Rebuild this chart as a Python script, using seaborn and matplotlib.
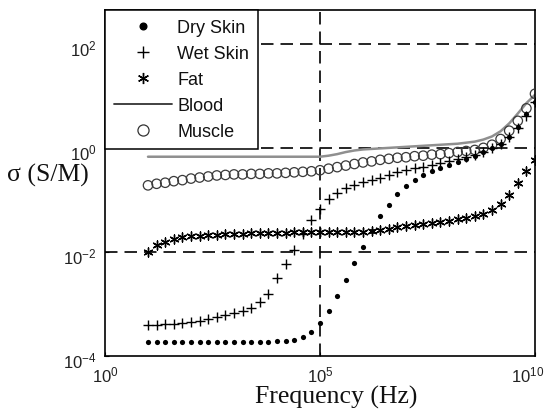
import numpy as np
import pandas as pd
import matplotlib
matplotlib.use("Agg")
import matplotlib.pyplot as plt
import matplotlib.transforms as mtransforms
from matplotlib.lines import Line2D
import seaborn as sns

# ---------------- data (log10 of frequency in Hz, log10 of conductivity in S/m) -------------
log_freq = [1.0, 1.2, 1.4, 1.6, 1.8, 2.0, 2.2, 2.4, 2.6, 2.8,
            3.0, 3.2, 3.4, 3.6, 3.8, 4.0, 4.2, 4.4, 4.6, 4.8,
            5.0, 5.2, 5.4, 5.6, 5.8, 6.0, 6.2, 6.4, 6.6, 6.8,
            7.0, 7.2, 7.4, 7.6, 7.8, 8.0, 8.2, 8.4, 8.6, 8.8,
            9.0, 9.2, 9.4, 9.6, 9.8, 10.0]

dry_skin = [-3.73, -3.73, -3.73, -3.73, -3.73, -3.73, -3.73, -3.73, -3.73, -3.73,
            -3.73, -3.73, -3.73, -3.73, -3.73, -3.72, -3.72, -3.70, -3.63, -3.53,
            -3.37, -3.13, -2.85, -2.54, -2.21, -1.90, -1.60, -1.31, -1.10, -0.88,
            -0.73, -0.62, -0.53, -0.45, -0.38, -0.33, -0.27, -0.21, -0.15, -0.08,
            0.00, 0.08, 0.21, 0.40, 0.65, 0.88]

wet_skin = [-3.40, -3.40, -3.39, -3.38, -3.37, -3.35, -3.33, -3.29, -3.25, -3.22,
            -3.17, -3.13, -3.08, -2.97, -2.80, -2.50, -2.24, -1.97, -1.66, -1.38,
            -1.17, -0.98, -0.86, -0.78, -0.71, -0.65, -0.61, -0.57, -0.52, -0.47,
            -0.43, -0.39, -0.36, -0.33, -0.29, -0.26, -0.22, -0.18, -0.13, -0.07,
            0.00, 0.08, 0.20, 0.38, 0.62, 0.88]

fat = [-2.00, -1.87, -1.80, -1.75, -1.72, -1.70, -1.69, -1.68, -1.67, -1.66,
       -1.65, -1.65, -1.64, -1.64, -1.63, -1.63, -1.63, -1.62, -1.62, -1.62,
       -1.62, -1.62, -1.62, -1.61, -1.61, -1.61, -1.60, -1.58, -1.56, -1.53,
       -1.51, -1.49, -1.47, -1.44, -1.42, -1.40, -1.37, -1.35, -1.31, -1.27,
       -1.20, -1.08, -0.90, -0.68, -0.44, -0.23]

blood = [-0.17, -0.17, -0.17, -0.17, -0.17, -0.17, -0.17, -0.17, -0.17, -0.17,
         -0.17, -0.17, -0.17, -0.17, -0.17, -0.17, -0.17, -0.17, -0.17, -0.17,
         -0.17, -0.15, -0.12, -0.08, -0.05, -0.03, -0.02, -0.01, 0.00, 0.01,
         0.02, 0.03, 0.04, 0.05, 0.06, 0.07, 0.08, 0.10, 0.12, 0.16,
         0.22, 0.32, 0.47, 0.66, 0.86, 1.02]

muscle = [-0.72, -0.69, -0.67, -0.64, -0.62, -0.59, -0.57, -0.55, -0.53, -0.52,
          -0.51, -0.51, -0.50, -0.50, -0.49, -0.49, -0.48, -0.47, -0.46, -0.45,
          -0.43, -0.40, -0.37, -0.34, -0.31, -0.28, -0.26, -0.23, -0.21, -0.19,
          -0.18, -0.16, -0.15, -0.13, -0.12, -0.10, -0.08, -0.06, -0.04, 0.00,
          0.06, 0.17, 0.33, 0.52, 0.76, 1.04]

series_names = ["Dry Skin", "Wet Skin", "Fat", "Blood", "Muscle"]
x_ticks = [1e0, 1e5, 1e10]
x_ticklabels = ["$10^{0}$", "$10^{5}$", "$10^{10}$"]
y_ticks = [1e-4, 1e-2, 1e0, 1e2]
y_ticklabels = ["$10^{-4}$", "$10^{-2}$", "$10^{0}$", "$10^{2}$"]

df = pd.DataFrame({
    "freq": 10.0 ** np.array(log_freq),
    "Dry Skin": 10.0 ** np.array(dry_skin),
    "Wet Skin": 10.0 ** np.array(wet_skin),
    "Fat": 10.0 ** np.array(fat),
    "Blood": 10.0 ** np.array(blood),
    "Muscle": 10.0 ** np.array(muscle),
})

# ---------------- style ----------------
sns.set_style("ticks")
plt.rcParams["font.family"] = ["Liberation Sans", "DejaVu Sans"]
plt.rcParams["mathtext.fontset"] = "custom"
plt.rcParams["mathtext.rm"] = "Liberation Sans"
plt.rcParams["mathtext.it"] = "Liberation Sans:italic"
plt.rcParams["mathtext.bf"] = "Liberation Sans:bold"

W, H = 549, 410
fig = plt.figure(figsize=(W / 100, H / 100), dpi=100)
ax = fig.add_axes([105 / W, 1 - 357 / H, 430 / W, 346 / H])

ax.set_xscale("log")
ax.set_yscale("log")
ax.set_xlim(1e0, 1e10)
ax.set_ylim(1e-4, 10 ** 2.65)

# dashed reference lines
dash = (0, (7.5, 4.2))
ax.axvline(1e5, color="black", lw=1.2, ls=dash, zorder=1)
for yv in [1e-2, 1e0, 1e2]:
    ax.axhline(yv, color="black", lw=1.2, ls=dash, zorder=1)

# series
sns.lineplot(data=df, x="freq", y="Blood", color="#8f8f8f", lw=1.8,
             sort=False, ax=ax, zorder=2)
sns.scatterplot(data=df, x="freq", y="Muscle", marker="o", s=46,
                facecolors="none", edgecolor="#3a3a3a", linewidth=0.9,
                ax=ax, zorder=3)
sns.scatterplot(data=df, x="freq", y="Fat", marker=(6, 2, 0), s=42,
                color="black", linewidth=1.0, ax=ax, zorder=4)
sns.scatterplot(data=df, x="freq", y="Wet Skin", marker="+", s=60,
                color="black", linewidth=1.0, ax=ax, zorder=4)
sns.scatterplot(data=df, x="freq", y="Dry Skin", marker="o", s=14,
                color="black", edgecolor="black", linewidth=0, ax=ax, zorder=5)

# axes styling
for sp in ax.spines.values():
    sp.set_color("black")
    sp.set_linewidth(1.2)
ax.set_xticks(x_ticks)
ax.set_xticklabels(x_ticklabels)
ax.set_yticks(y_ticks)
ax.set_yticklabels(y_ticklabels)
ax.minorticks_off()
ax.tick_params(axis="both", direction="in", length=3, width=0.8,
               labelsize=12, colors="black", labelcolor="#222222")
ax.tick_params(axis="x", pad=6)
ax.tick_params(axis="y", pad=6)
off = mtransforms.ScaledTranslation(0, -2 / 72, fig.dpi_scale_trans)
for lab in ax.get_yticklabels():
    lab.set_transform(lab.get_transform() + off)
# keep the rightmost x label inside the canvas
xlabs = ax.get_xticklabels()
shift = mtransforms.ScaledTranslation(-5 / 72, 0, fig.dpi_scale_trans)
xlabs[-1].set_transform(xlabs[-1].get_transform() + shift)
ax.set_xlabel("")
ax.set_ylabel("")

fig.text(336 / W, 1 - 397 / H, "Frequency (Hz)", family="Liberation Serif",
         fontsize=18.5, ha="center", va="center", color="#111111")
fig.text(7 / W, 1 - 175 / H, "σ (S/M)", family="Liberation Serif",
         fontsize=18.5, ha="left", va="center", color="#111111")

# legend
handles = [
    Line2D([], [], ls="", marker="o", color="black", ms=4.8),
    Line2D([], [], ls="", marker="+", color="black", ms=9, mew=1.0),
    Line2D([], [], ls="", marker=(6, 2, 0), color="black", ms=8, mew=1.0),
    Line2D([], [], ls="-", color="#333333", lw=1.3),
    Line2D([], [], ls="", marker="o", mfc="none", mec="#333333", ms=8, mew=0.9),
]
leg = ax.legend(handles, series_names, loc="upper left", borderaxespad=0,
                frameon=True, fancybox=False, framealpha=1, edgecolor="black",
                fontsize=13, handlelength=3.2, handletextpad=0.3,
                labelspacing=0.5, borderpad=0.5)
leg.get_frame().set_linewidth(1.1)
leg.set_zorder(10)
for t in leg.get_texts():
    t.set_color("#111111")

fig.savefig("out.png", dpi=100)
